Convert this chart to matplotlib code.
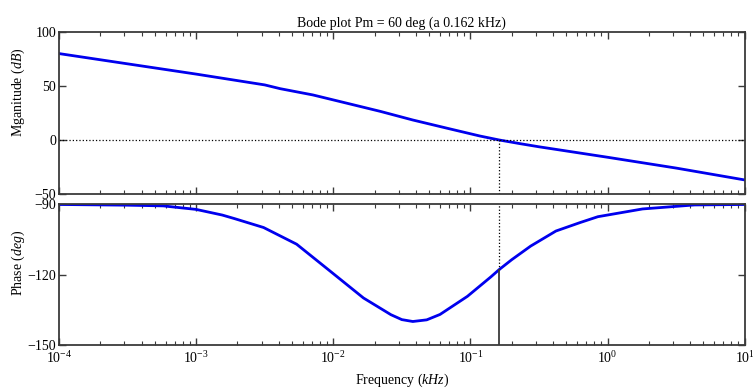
import matplotlib.pyplot as plt
import matplotlib.ticker as ticker

# -*- FONT AND COLOUR SETTINGS -*-
plt.rcParams['font.family'] = ['Liberation Serif', 'DejaVu Serif']
plt.rcParams['mathtext.fontset'] = 'custom'
plt.rcParams['mathtext.rm'] = 'Liberation Serif'
plt.rcParams['mathtext.it'] = 'Liberation Serif:italic'
plt.rcParams['mathtext.bf'] = 'Liberation Serif:bold'

frame_colour = '#3a3a3a'
line_colour = '#0000ee'

# -*- DATA -*-
mag_freq = [1e-4, 3.16e-4, 1e-3, 3.16e-3, 4.1e-3, 7.1e-3, 1.26e-2, 2.2e-2,
            3.8e-2, 6.8e-2, 0.117, 0.162, 0.23, 0.316, 1.0, 3.16, 10.0]
mag_db = [80, 70.5, 61, 51, 47.5, 41.7, 34, 26.5, 18.5, 10.8, 3.7, 0,
          -3.4, -6.3, -16, -26, -37]

phase_freq = [1e-4, 3.16e-4, 5.75e-4, 1e-3, 1.55e-3, 1.9e-3, 3.1e-3,
              5.4e-3, 9.5e-3, 1.66e-2, 2.63e-2, 3.16e-2, 3.8e-2, 4.8e-2,
              6.0e-2, 9.5e-2, 0.141, 0.162, 0.2, 0.275, 0.42, 0.63, 0.85,
              1.8, 4.3, 10.0]
phase_deg = [-90.2, -90.5, -90.8, -92.3, -94.7, -96.2, -100, -107.1,
             -118.6, -130, -137.1, -139.2, -140, -139.3, -137, -129.3,
             -121, -117.9, -113.7, -107.9, -101.5, -97.9, -95.4, -92.1,
             -90.4, -90.2]

pm_freq = 0.162
pm_phase = -117.9
title = 'Bode plot Pm = 60 deg (a 0.162 kHz)'

# -*- PLOT -*-
fig = plt.figure(figsize=(7.53, 3.9), dpi=100)
ax1 = fig.add_axes([0.0784, 0.5026, 0.9106, 0.4154])
ax2 = fig.add_axes([0.0784, 0.1154, 0.9106, 0.3615])

for ax in (ax1, ax2):
    ax.set_xscale('log')
    ax.set_xlim(1e-4, 10)
    for sp in ax.spines.values():
        sp.set_color(frame_colour)
        sp.set_linewidth(1.3)
    ax.tick_params(which='both', direction='in', top=True, right=True,
                   colors=frame_colour, labelcolor='black', labelsize=10)
    ax.tick_params(which='major', length=5, width=1)
    ax.tick_params(which='minor', length=3, width=0.8)
    ax.tick_params(axis='y', pad=2)
    ax.xaxis.set_major_locator(ticker.LogLocator(base=10, numticks=10))
    ax.xaxis.set_minor_locator(ticker.LogLocator(base=10, subs=range(2, 10),
                                                 numticks=20))
    ax.xaxis.set_minor_formatter(ticker.NullFormatter())

# magnitude
ax1.plot(mag_freq, mag_db, color=line_colour, lw=2)
ax1.axhline(0, color='black', ls=':', lw=0.9)
ax1.plot([pm_freq, pm_freq], [-50, 0], color='black', ls=':', lw=0.9)
ax1.set_ylim(-50, 100)
ax1.set_yticks([-50, 0, 50, 100])
ax1.tick_params(axis='x', labelbottom=False)
ax1.set_ylabel('Mganitude $(dB)$', fontsize=10)
ax1.yaxis.set_label_coords(-0.047, 0.63)
ax1.set_title(title, fontsize=10, pad=4)

# phase
ax2.plot(phase_freq, phase_deg, color=line_colour, lw=2)
ax2.plot([pm_freq, pm_freq], [pm_phase, -90], color='black', ls=':', lw=0.9)
ax2.plot([pm_freq, pm_freq], [-150, pm_phase], color=frame_colour, lw=1.3)
ax2.set_ylim(-150, -90)
ax2.set_yticks([-150, -120, -90])
ax2.set_ylabel('Phase $(deg)$', fontsize=10)
ax2.yaxis.set_label_coords(-0.047, 0.58)
ax2.set_xlabel('Frequency $(kHz)$', fontsize=10, labelpad=4)

plt.savefig('out.png', dpi=100)
